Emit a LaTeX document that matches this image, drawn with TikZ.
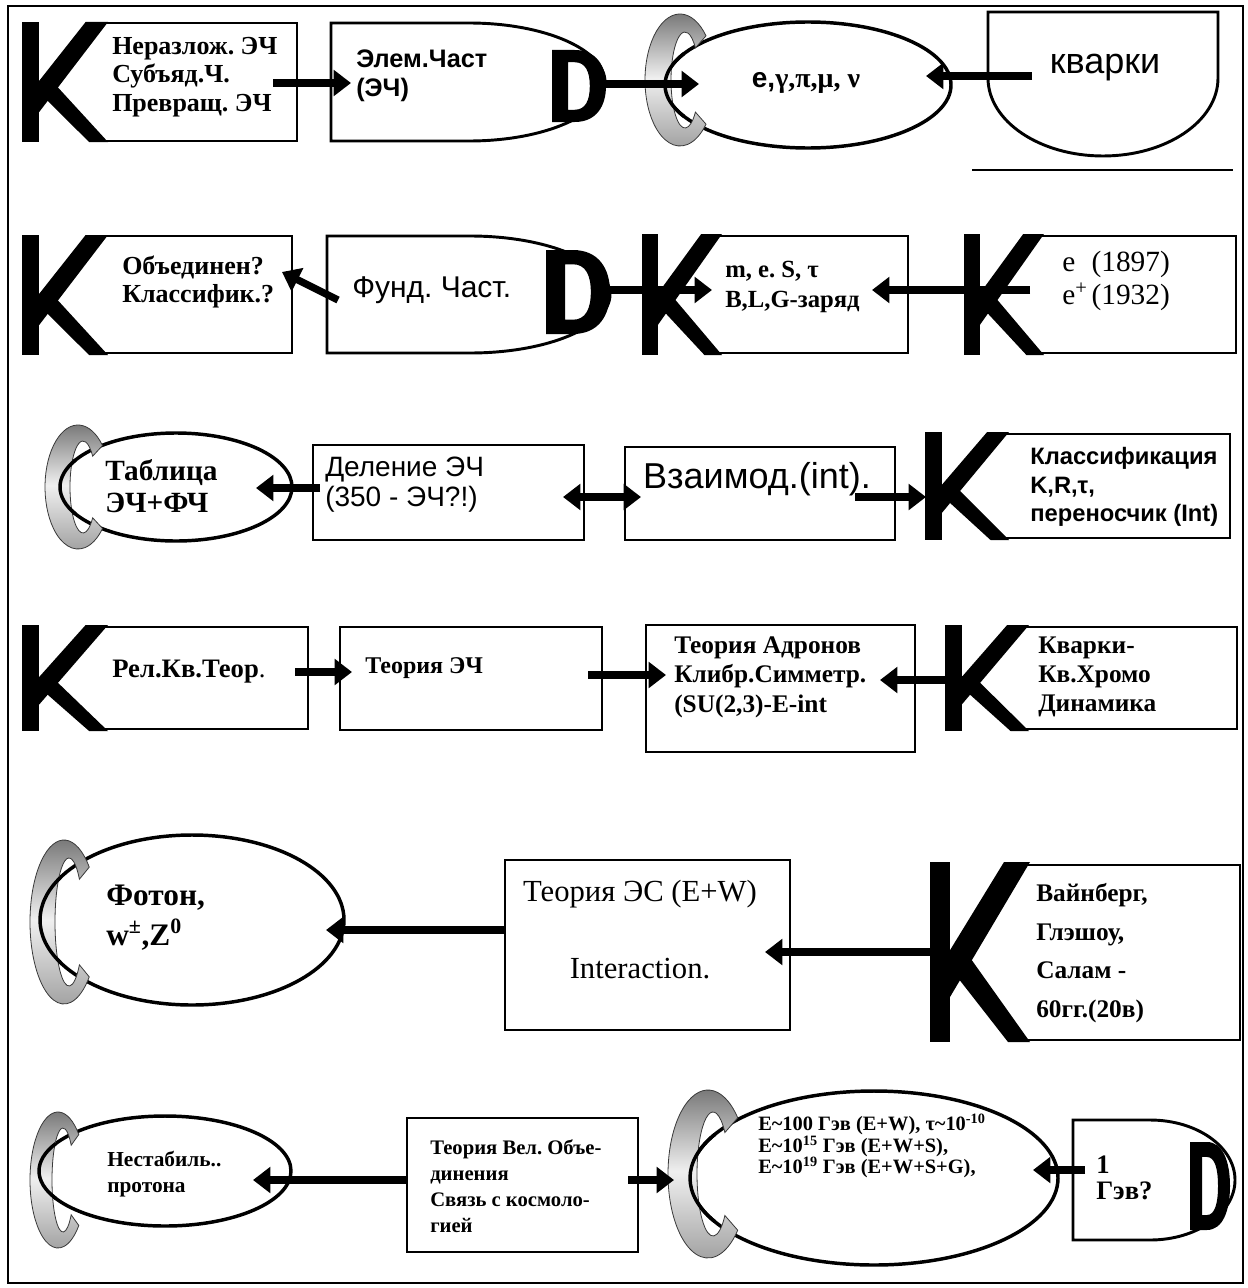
\documentclass[tikz,border=0pt]{standalone}
\usepackage{fontspec}
\setmainfont{Liberation Serif}
\setsansfont{Liberation Sans}
\usetikzlibrary{arrows.meta,calc}
\frenchspacing
\newcommand\KLetter[4]{%
  \fill[shift={(#1,#2)},xscale=#3,yscale=#4] (0,0) rectangle (0.2,1);
  \fill[shift={(#1,#2)},xscale=#3,yscale=#4] (0.2,0.49) -- (0.74,0) -- (1,0) -- (0.2,0.75) -- cycle;
  \fill[shift={(#1,#2)},xscale=#3,yscale=#4] (0.36,0.50) -- (1,1) -- (0.78,1) -- (0.26,0.63) -- cycle;}
\newcommand\DLetter[4]{%
  \fill[even odd rule,shift={(#1,#2)},xscale=#3,yscale=#4]
   (0,0) -- (0.42,0) .. controls (0.82,0) and (1,0.22) .. (1,0.5) .. controls (1,0.78) and (0.82,1) .. (0.42,1) -- (0,1) -- cycle
   (0.3,0.17) -- (0.42,0.17) .. controls (0.62,0.17) and (0.7,0.3) .. (0.7,0.5) .. controls (0.7,0.7) and (0.62,0.83) .. (0.42,0.83) -- (0.3,0.83) -- cycle;}
\newcommand\CRing[6]{%
  \shadedraw[top color=gray!85!black,bottom color=gray!75,middle color=gray!12,draw=gray!45!black,line width=0.6pt]
   ($(#1,#2)+(-42:#3 and #4)$) arc[start angle=-42,end angle=-318,x radius=#3,y radius=#4]
   -- ($(#1,#2)+(5,0)+(-318:#5 and #6)$) arc[start angle=-318,end angle=-42,x radius=#5,y radius=#6] -- cycle;}
\newcommand\EllFront[3]{%
  \draw[ell] ($(#1)+(150:#2 and #3)$) arc[start angle=150,end angle=210,x radius=#2,y radius=#3];}
\tikzset{
 box/.style={line width=2.2pt},
 ell/.style={line width=2.6pt},
 arr/.style={line width=5.5pt,-{Triangle[length=13pt,width=19pt]}},
 darr/.style={line width=5.5pt,{Triangle[length=13pt,width=19pt]}-{Triangle[length=13pt,width=19pt]}},
 txt/.style={anchor=west,align=left,inner sep=0pt},
 RB/.style 2 args={txt,font=\fontsize{#1}{#2}\selectfont\bfseries},
 RR/.style 2 args={txt,font=\fontsize{#1}{#2}\selectfont},
 SB/.style 2 args={txt,font=\fontsize{#1}{#2}\selectfont\sffamily\bfseries},
 SR/.style 2 args={txt,font=\fontsize{#1}{#2}\selectfont\sffamily},
}
\begin{document}
\begin{tikzpicture}[x=0.75pt,y=-0.75pt,line join=miter]
\useasboundingbox (0,0) rectangle (1247,1288);
\draw[line width=1.6pt] (8,6) rectangle (1243,1283);

% ---------------- Row 1
\KLetter{22}{22}{86}{120}
\draw[box] (96,23) -- (297,23) -- (297,141) -- (100,141);
\node[RB={19.5}{21.5}] (t1) at (112,77) {Неразлож. ЭЧ\\Субъяд.Ч.\\Превращ. ЭЧ};
\draw[box] (469,23) -- (331,23) -- (331,141) -- (469,141) arc[start angle=90,end angle=-90,x radius=136,y radius=59] -- cycle;
\node[SB={19}{21.5}] (t2) at (356,76) {Элем.Част\\(ЭЧ)};
\DLetter{552}{50}{54}{72}
\coordinate (E1) at (808,85);
\draw[ell] (E1) ellipse[x radius=143,y radius=63];
\CRing{680}{80}{35}{66}{14}{48}
\EllFront{E1}{143}{63}
\node[inner sep=0pt] (t3) at (806,83) {\fontsize{21}{23}\selectfont\bfseries\sffamily e,\rmfamily γ,π,μ, ν};
\draw[box] (988,12) -- (1218,12) -- (1218,78) arc[start angle=0,end angle=180,x radius=115,y radius=78] -- cycle;
\draw[box] (972,170) -- (1233,170);
\node[SR={27}{30},anchor=center] (t4) at (1105,68) {кварки};
\coordinate (a1s) at (273,83); \coordinate (a1e) at (351,83);
\draw[arr] (a1s) -- (a1e);
\coordinate (a2s) at (596,84); \coordinate (a2e) at (699,84);
\draw[arr] (a2s) -- (a2e);
\coordinate (a3s) at (1032,76); \coordinate (a3e) at (926,76);
\draw[arr] (a3s) -- (a3e);

% ---------------- Row 2
\KLetter{22}{235}{86}{120}
\draw[box] (96,236) -- (292,236) -- (292,353) -- (100,353);
\node[RB={19.5}{21.5}] (t5) at (122,282) {Объединен?\\Классифик.?};
\draw[box] (470,236) -- (327,236) -- (327,353) -- (470,353) arc[start angle=90,end angle=-90,x radius=140,y radius=58.5] -- cycle;
\node[SR={22.5}{25}] (t6) at (352,290) {Фунд. Част.};
\DLetter{546}{250}{64}{84}
\KLetter{642}{234}{80}{121}
\draw[box] (711,236) -- (908,236) -- (908,353) -- (714,353);
\node[RB={18.5}{22}] (t7) at (725,287) {m, e. S, τ\\B,L,G-заряд};
\KLetter{964}{234}{80}{121}
\draw[box] (1033,236) -- (1236,236) -- (1236,353) -- (1036,353);
\node[RR={22}{25}] (t8) at (1062,281) {\makebox[22pt][l]{e}(1897)\\\makebox[22pt][l]{e\textsuperscript{+}}(1932)};
\coordinate (b1s) at (338,300); \coordinate (b1e) at (282,272);
\draw[arr] (b1s) -- (b1e);
\coordinate (b2s) at (600,290); \coordinate (b2e) at (712,290);
\draw[arr] (b2s) -- (b2e);
\coordinate (b3s) at (1030,290); \coordinate (b3e) at (872,290);
\draw[arr] (b3s) -- (b3e);

% ---------------- Row 3
\coordinate (E3) at (176,487);
\draw[ell] (E3) ellipse[x radius=116,y radius=54];
\CRing{78}{487}{33}{62}{13}{46}
\EllFront{E3}{116}{54}
\node[RB={22}{24}] (t9) at (105,486) {Таблица\\ЭЧ+ФЧ};
\draw[box] (313,445) rectangle (584,540);
\node[SR={21}{22.5}] (t10) at (325,485) {Деление ЭЧ\\(350 - ЭЧ?!)};
\draw[box] (625,447) rectangle (895,540);
\node[SR={27}{30},anchor=center] (t11) at (757,479) {Взаимод.(int).};
\KLetter{925}{432}{84}{108}
\draw[box] (997,434) -- (1230,434) -- (1230,538) -- (1001,538);
\node[SB={17.8}{21.5}] (t12) at (1030,487) {Классификация\\K,R,τ,\\переносчик (Int)};
\coordinate (c1s) at (320,488); \coordinate (c1e) at (256,488);
\draw[arr] (c1s) -- (c1e);
\coordinate (c2s) at (563,497); \coordinate (c2e) at (641,497);
\draw[darr] (c2s) -- (c2e);
\coordinate (c3s) at (855,497); \coordinate (c3e) at (926,497);
\draw[arr] (c3s) -- (c3e);

% ---------------- Row 4
\KLetter{22}{625}{86}{106}
\draw[box] (96,627) -- (308,627) -- (308,729) -- (100,729);
\node[RB={20}{22}] (t13) at (112,672) {Рел.Кв.Теор{\mdseries .}};
\draw[box] (340,627) rectangle (602,730);
\node[RB={18}{21}] (t14) at (365,668) {Теория ЭЧ};
\draw[box] (646,625) rectangle (915,752);
\node[RB={19}{22}] (t15) at (674,677) {Теория Адронов\\Клибр.Симметр.\\(SU(2,3)-E-int};
\KLetter{945}{625}{84}{106}
\draw[box] (1017,627) -- (1237,627) -- (1237,729) -- (1021,729);
\node[RB={19}{22}] (t16) at (1038,677) {Кварки-\\Кв.Хромо\\Динамика};
\coordinate (d1s) at (295,672); \coordinate (d1e) at (352,672);
\draw[arr] (d1s) -- (d1e);
\coordinate (d2s) at (588,675); \coordinate (d2e) at (666,675);
\draw[arr] (d2s) -- (d2e);
\coordinate (d3s) at (965,680); \coordinate (d3e) at (880,680);
\draw[arr] (d3s) -- (d3e);

% ---------------- Row 5
\coordinate (E5) at (192,920);
\draw[ell] (E5) ellipse[x radius=152,y radius=85];
\CRing{64}{922}{34}{82}{14}{64}
\EllFront{E5}{152}{85}
\node[RB={23.5}{30}] (t17) at (106,918) {Фотон,\\w\textsuperscript{±},Z\textsuperscript{0}};
\draw[box] (505,860) rectangle (790,1030);
\node[RR={23}{29},align=center,anchor=north] (t18) at (640,880) {Теория ЭС (E+W)\\[29pt]Interaction.};
\KLetter{930}{862}{100}{180}
\draw[box] (1016,865) -- (1240,865) -- (1240,1040) -- (1020,1040);
\node[RB={19}{29}] (t20) at (1036,953) {Вайнберг,\\Глэшоу,\\Салам -\\60гг.(20в)};
\coordinate (e1s) at (505,930); \coordinate (e1e) at (326,930);
\draw[arr] (e1s) -- (e1e);
\coordinate (e2s) at (935,952); \coordinate (e2e) at (765,952);
\draw[arr] (e2s) -- (e2e);

% ---------------- Row 6
\coordinate (E6) at (165,1171);
\draw[ell] (E6) ellipse[x radius=126,y radius=55];
\CRing{58}{1180}{28}{68}{11}{52}
\EllFront{E6}{126}{55}
\node[RB={16}{20}] (t21) at (107,1174) {Нестабиль..\\протона};
\draw[box] (407,1118) rectangle (638,1252);
\node[RB={15.5}{19.5}] (t22) at (430,1186) {Теория Вел. Объе-\\динения\\Связь с космоло-\\гией};
\coordinate (E7) at (874,1178);
\draw[ell] (E7) ellipse[x radius=184,y radius=87];
\CRing{708}{1174}{40}{84}{16}{62}
\EllFront{E7}{184}{87}
\node[RB={15.3}{16}] (t23) at (758,1146) {E\textasciitilde100 Гэв (E+W), τ\textasciitilde10\textsuperscript{-10}\\E\textasciitilde10\textsuperscript{15} Гэв (E+W+S),\\E\textasciitilde10\textsuperscript{19} Гэв (E+W+S+G),};
\draw[box] (1150,1120) -- (1073,1120) -- (1073,1240) -- (1150,1240) arc[start angle=90,end angle=-90,x radius=85,y radius=60] -- cycle;
\DLetter{1190}{1142}{40}{88}
\node[RB={20}{20}] (t24) at (1096,1178) {1\\Гэв?};
\coordinate (f1s) at (407,1180); \coordinate (f1e) at (253,1180);
\draw[arr] (f1s) -- (f1e);
\coordinate (f2s) at (628,1180); \coordinate (f2e) at (674,1180);
\draw[arr] (f2s) -- (f2e);
\coordinate (f3s) at (1085,1170); \coordinate (f3e) at (1033,1170);
\draw[arr] (f3s) -- (f3e);
\end{tikzpicture}
\end{document}
